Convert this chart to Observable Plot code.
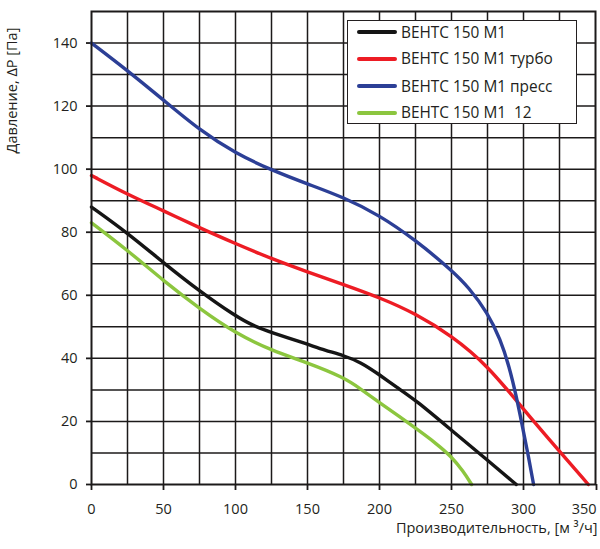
<!DOCTYPE html>
<html>
<head>
<meta charset="utf-8">
<script src="https://cdn.jsdelivr.net/npm/d3@7"></script>
<script src="https://cdn.jsdelivr.net/npm/@observablehq/plot@0.6"></script>
<style>
  html, body { margin: 0; padding: 0; background: #fff; }
  #wrap { position: relative; width: 600px; height: 549px; font-family: "Open Sans", "Noto Sans", sans-serif; }
  #legend { position: absolute; left: 347px; top: 20px; width: 228px; height: 102px;
            background: #fff; border: 1.6px solid #231f20; box-sizing: content-box; }
  .row { position: absolute; left: 0; height: 20px; display: flex; align-items: center; }
  .sw { width: 40px; height: 4px; margin-left: 9px; margin-right: 4px; border-radius: 2px; }
  .lbl { font-size: 15.4px; color: #231f20; white-space: pre; }
</style>
</head>
<body>
<div id="wrap"></div>
<script>
// ---- data ----
const seriesNames = ["ВЕНТС 150 М1", "ВЕНТС 150 М1 турбо", "ВЕНТС 150 М1 пресс", "ВЕНТС 150 М1  12"];
const seriesColors = ["#151515", "#ed1c24", "#2c3f96", "#8cc63f"];

const blackX = [0, 25, 50, 75, 100, 112, 125, 150, 162, 175, 187, 200, 212, 225, 250, 275, 295];
const blackY = [88, 79.8, 70.3, 61.3, 53.4, 50.4, 48.2, 44.5, 42.6, 40.9, 38.8, 34.8, 30.8, 26.8, 17.2, 7.7, 0];

const redX = [0, 25, 50, 75, 100, 125, 150, 175, 200, 225, 250, 275, 300, 325, 345];
const redY = [98, 92, 86.8, 81.4, 76.4, 71.6, 67.4, 63.4, 59.3, 54.2, 47.2, 37.8, 23.8, 10.5, 0];

const blueX = [0, 25, 50, 75, 100, 125, 150, 175, 200, 225, 250, 262, 275, 284, 290, 295, 299, 303, 307];
const blueY = [140, 131.3, 121.9, 112.4, 105, 99.7, 95.3, 91.1, 85.4, 77.5, 68, 62.5, 54.5, 46, 37.5, 28, 19, 10, 0];

const greenX = [0, 25, 50, 75, 100, 125, 150, 175, 187, 200, 225, 240, 250, 258, 264];
const greenY = [83, 74.3, 64.6, 55.8, 48, 42.5, 38.6, 34, 30.3, 26, 17.9, 12.8, 8.8, 4.3, 0];

const xTicks = [0, 50, 100, 150, 200, 250, 300, 350];
const yTicks = [0, 20, 40, 60, 80, 100, 120, 140];
const xGrid = [25, 50, 75, 100, 125, 150, 175, 200, 225, 250, 275, 300, 325];
const yGrid = [10, 20, 30, 40, 50, 60, 70, 80, 90, 100, 110, 120, 130, 140];

const xTitle = "Производительность, [м ³/ч]";
const yTitle = "Давление, ΔP [Па]";

// ---- build table ----
const allX = [blackX, redX, blueX, greenX];
const allY = [blackY, redY, blueY, greenY];
const rows = [];
seriesNames.forEach((name, s) => {
  allX[s].forEach((x, i) => rows.push({series: name, x, y: allY[s][i]}));
});

const ink = "#1c1a1a";
const lastTick = xTicks[xTicks.length - 1];
const fs = 14.5;
const chart = Plot.plot({
  width: 600,
  height: 549,
  marginLeft: 91,
  marginRight: 5,
  marginTop: 11,
  marginBottom: 65,
  style: {fontFamily: "'Open Sans', 'Noto Sans', sans-serif", fontSize: fs + "px", color: "#231f20", background: "#fff"},
  x: {domain: [0, 350]},
  y: {domain: [0, 150]},
  color: {domain: seriesNames, range: seriesColors},
  marks: [
    Plot.gridX(xGrid, {stroke: ink, strokeOpacity: 1, strokeWidth: 1.5}),
    Plot.gridY(yGrid, {stroke: ink, strokeOpacity: 1, strokeWidth: 1.5}),
    Plot.axisX(xTicks.filter(t => t !== lastTick), {tickSize: 6, tickPadding: 13, strokeWidth: 1.8, stroke: ink, label: null, fontSize: fs}),
    Plot.axisX([lastTick], {tickSize: 6, tickPadding: 13, strokeWidth: 1.8, stroke: ink, label: null, fontSize: fs, textAnchor: "end", dx: 1}),
    Plot.axisY(yTicks, {tickSize: 5, tickPadding: 9, strokeWidth: 1.8, stroke: ink, label: null, fontSize: fs}),
    Plot.line(rows, {x: "x", y: "y", z: "series", stroke: "series", strokeWidth: 3.4, curve: "basis"}),
    Plot.frame({stroke: ink, strokeWidth: 2}),
    Plot.text([xTitle], {text: d => d, frameAnchor: "bottom-right", textAnchor: "end", dx: 2, dy: 48, fontSize: fs, fill: "#231f20"}),
    Plot.text([yTitle], {text: d => d, frameAnchor: "top-left", textAnchor: "middle", lineAnchor: "middle", rotate: -90, dx: -79, dy: 79, fontSize: fs, fill: "#231f20"})
  ]
});

const wrap = document.getElementById("wrap");
wrap.appendChild(chart);

// legend overlay
const legend = document.createElement("div");
legend.id = "legend";
const rowTops = [1, 27.7, 55, 81.7];
seriesNames.forEach((name, i) => {
  const r = document.createElement("div");
  r.className = "row";
  r.style.top = rowTops[i] + "px";
  const sw = document.createElement("div");
  sw.className = "sw";
  sw.style.background = seriesColors[i];
  const lb = document.createElement("span");
  lb.className = "lbl";
  lb.textContent = name;
  r.appendChild(sw); r.appendChild(lb);
  legend.appendChild(r);
});
wrap.appendChild(legend);
</script>
</body>
</html>
